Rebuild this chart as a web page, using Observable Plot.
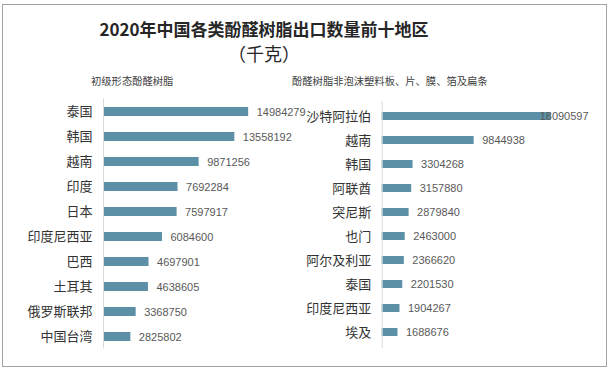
<!DOCTYPE html>
<html>
<head>
<meta charset="utf-8">
<script src="https://cdn.jsdelivr.net/npm/d3@7"></script>
<script src="https://cdn.jsdelivr.net/npm/@observablehq/plot@0.6"></script>
<style>
  html, body { margin: 0; padding: 0; background: #fff; }
  #wrap { position: relative; width: 612px; height: 373px; overflow: hidden; background: #fff; font-family: "Noto Sans CJK SC", sans-serif; }
  #frame { position: absolute; left: 2px; top: 4px; width: 603px; height: 361px; border: 1.5px solid #a3a3a3; }
  .title { position: absolute; left: 0; width: 528px; text-align: center; font-size: 17px; line-height: 22px; color: #262626; }
  .sub { position: absolute; font-size: 10.3px; line-height: 12px; color: #404040; white-space: nowrap; }
  .panel { position: absolute; top: 0; }
</style>
</head>
<body>
<div id="wrap">
  <div id="frame"></div>
  <div class="title" style="top:18px; font-weight:bold">2020年中国各类酚醛树脂出口数量前十地区</div>
  <div class="title" style="top:42px; font-size:18px">（千克）</div>
  <div class="sub" style="left:91px; top:75px">初级形态酚醛树脂</div>
  <div class="sub" style="left:292px; top:75px">酚醛树脂非泡沫塑料板、片、膜、箔及扁条</div>
  <div id="left" class="panel" style="left:0px"></div>
  <div id="right" class="panel" style="left:280px"></div>
</div>
<script>
const leftTitle = "初级形态酚醛树脂";
const leftCategories = ["泰国", "韩国", "越南", "印度", "日本", "印度尼西亚", "巴西", "土耳其", "俄罗斯联邦", "中国台湾"];
const leftValues = [14984279, 13558192, 9871256, 7692284, 7597917, 6084600, 4697901, 4638605, 3368750, 2825802];

const rightTitle = "酚醛树脂非泡沫塑料板、片、膜、箔及扁条";
const rightCategories = ["沙特阿拉伯", "越南", "韩国", "阿联酋", "突尼斯", "也门", "阿尔及利亚", "泰国", "印度尼西亚", "埃及"];
const rightValues = [18090597, 9844938, 3304268, 3157880, 2879840, 2463000, 2366620, 2201530, 1904267, 1688676];

const barColor = "#5b90a6";

function panel(cats, vals, opts) {
  const data = cats.map((c, i) => ({name: c, value: vals[i]}));
  return Plot.plot({
    width: 330,
    height: 373,
    marginLeft: opts.marginLeft,
    marginRight: opts.marginRight,
    marginTop: opts.marginTop,
    marginBottom: opts.marginBottom,
    style: {background: "transparent", overflow: "visible", fontFamily: "'Noto Sans CJK SC', sans-serif"},
    x: {domain: [0, opts.xMax], axis: null},
    y: {domain: cats, paddingInner: 0.66, paddingOuter: 0.33, label: null},
    marks: [
      Plot.barX(data, {x: "value", y: "name", fill: barColor}),
      Plot.ruleX([0], {stroke: "#d9d9d9", strokeWidth: 1}),
      Plot.axisY({tickSize: 0, tickPadding: 11, fontSize: 13, color: "#333333", label: null}),
      Plot.text(data, {
        x: d => Math.min(d.value, opts.labelCap),
        y: "name",
        text: d => String(d.value),
        textAnchor: "start",
        dx: 8,
        fill: "#595959",
        fontSize: 11,
        fontFamily: "'Liberation Sans', sans-serif"
      })
    ]
  });
}

document.getElementById("left").appendChild(
  panel(leftCategories, leftValues, {marginLeft: 103, marginRight: 72, marginTop: 98.5, marginBottom: 24.5, xMax: 16e6, labelCap: 1e9})
);
document.getElementById("right").appendChild(
  panel(rightCategories, rightValues, {marginLeft: 101.7, marginRight: 41.5, marginTop: 101, marginBottom: 25, xMax: 20e6, labelCap: 16e6})
);
</script>
</body>
</html>
